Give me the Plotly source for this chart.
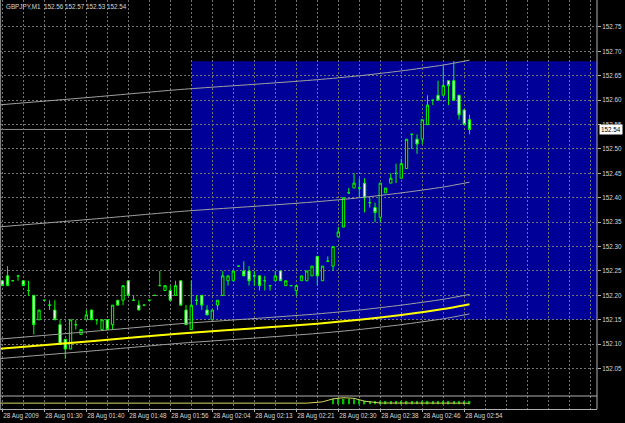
import plotly.graph_objects as go

# ---------------- data ----------------
bar_index = list(range(90))
opens = [152.23, 152.24, 152.23, 152.24, 152.23, 152.21, 152.20, 152.15, 152.19, 152.18,
         152.17, 152.14, 152.11, 152.09, 152.14, 152.12, 152.15, 152.17, 152.15, 152.13,
         152.15, 152.14, 152.19, 152.19, 152.23, 152.19, 152.18, 152.18, 152.19, 152.20,
         152.22, 152.21, 152.21, 152.20, 152.23, 152.17, 152.13, 152.19, 152.20, 152.17,
         152.15, 152.18, 152.20, 152.23, 152.23, 152.26, 152.25, 152.25, 152.24, 152.24,
         152.23, 152.22, 152.23, 152.25, 152.22, 152.22, 152.21, 152.23, 152.23, 152.24,
         152.28, 152.23, 152.27, 152.26, 152.32, 152.34, 152.41, 152.42, 152.42, 152.43,
         152.39, 152.38, 152.36, 152.41, 152.43, 152.45, 152.44, 152.46, 152.53, 152.52,
         152.52, 152.55, 152.60, 152.61, 152.61, 152.64, 152.64, 152.61, 152.58, 152.56]
highs = [152.23, 152.26, 152.23, 152.24, 152.23, 152.23, 152.20, 152.17, 152.19, 152.19,
         152.19, 152.15, 152.11, 152.15, 152.15, 152.13, 152.17, 152.17, 152.15, 152.15,
         152.15, 152.18, 152.19, 152.22, 152.23, 152.20, 152.19, 152.18, 152.19, 152.20,
         152.25, 152.22, 152.22, 152.23, 152.23, 152.18, 152.23, 152.20, 152.20, 152.18,
         152.17, 152.19, 152.25, 152.24, 152.25, 152.26, 152.27, 152.26, 152.25, 152.24,
         152.24, 152.22, 152.25, 152.25, 152.23, 152.22, 152.22, 152.24, 152.25, 152.26,
         152.28, 152.26, 152.28, 152.30, 152.34, 152.40, 152.42, 152.45, 152.44, 152.44,
         152.40, 152.39, 152.43, 152.42, 152.45, 152.47, 152.48, 152.52, 152.53, 152.53,
         152.56, 152.61, 152.60, 152.64, 152.67, 152.64, 152.68, 152.61, 152.58, 152.57]
lows = [152.22, 152.22, 152.23, 152.23, 152.22, 152.20, 152.12, 152.15, 152.19, 152.17,
        152.15, 152.10, 152.07, 152.09, 152.13, 152.12, 152.15, 152.15, 152.14, 152.13,
        152.13, 152.13, 152.18, 152.18, 152.20, 152.19, 152.17, 152.18, 152.19, 152.20,
        152.22, 152.21, 152.19, 152.20, 152.18, 152.14, 152.13, 152.18, 152.17, 152.16,
        152.15, 152.17, 152.20, 152.22, 152.23, 152.26, 152.24, 152.22, 152.22, 152.21,
        152.21, 152.21, 152.23, 152.23, 152.22, 152.22, 152.20, 152.23, 152.23, 152.24,
        152.22, 152.23, 152.27, 152.25, 152.32, 152.34, 152.41, 152.42, 152.40, 152.37,
        152.38, 152.35, 152.35, 152.41, 152.43, 152.43, 152.44, 152.46, 152.50, 152.49,
        152.51, 152.55, 152.59, 152.60, 152.61, 152.59, 152.60, 152.56, 152.55, 152.53]
closes = [152.22, 152.22, 152.23, 152.24, 152.22, 152.21, 152.14, 152.17, 152.19, 152.18,
          152.15, 152.10, 152.09, 152.15, 152.14, 152.13, 152.16, 152.15, 152.15, 152.15,
          152.13, 152.18, 152.18, 152.22, 152.20, 152.19, 152.17, 152.18, 152.19, 152.20,
          152.22, 152.22, 152.19, 152.22, 152.18, 152.14, 152.18, 152.19, 152.18, 152.16,
          152.17, 152.19, 152.24, 152.24, 152.25, 152.26, 152.24, 152.23, 152.24, 152.22,
          152.23, 152.22, 152.24, 152.23, 152.23, 152.22, 152.22, 152.24, 152.25, 152.26,
          152.24, 152.26, 152.27, 152.30, 152.33, 152.40, 152.41, 152.43, 152.42, 152.40,
          152.39, 152.37, 152.43, 152.42, 152.44, 152.45, 152.47, 152.52, 152.53, 152.51,
          152.56, 152.59, 152.60, 152.60, 152.63, 152.63, 152.60, 152.57, 152.55, 152.54]

date_tick_bars = [0, 8, 16, 24, 32, 40, 48, 56, 64, 72, 80, 88]
date_tick_labels = ["28 Aug 2009", "28 Aug 01:30", "28 Aug 01:40", "28 Aug 01:48",
                    "28 Aug 01:56", "28 Aug 02:04", "28 Aug 02:13", "28 Aug 02:21",
                    "28 Aug 02:30", "28 Aug 02:38", "28 Aug 02:46", "28 Aug 02:54"]
price_ticks = [152.05, 152.10, 152.15, 152.20, 152.25, 152.30, 152.35, 152.40,
               152.45, 152.50, 152.55, 152.60, 152.65, 152.70, 152.75]
price_tick_labels = ["152.05", "152.10", "152.15", "152.20", "152.25", "152.30", "152.35",
                     "152.40", "152.45", "152.50", "152.55", "152.60", "152.65", "152.70", "152.75"]

env_bars = [-1, 18, 34, 50, 60, 68, 76, 84, 89]
env_middle = [152.340, 152.357, 152.372, 152.384, 152.392, 152.400, 152.410, 152.422, 152.432]
env_upper = [152.590, 152.607, 152.622, 152.634, 152.642, 152.650, 152.660, 152.672, 152.682]
env_lower = [152.090, 152.107, 152.122, 152.134, 152.142, 152.150, 152.160, 152.172, 152.182]
band_high = [152.110, 152.127, 152.142, 152.154, 152.162, 152.170, 152.180, 152.192, 152.202]
band_low = [152.070, 152.087, 152.102, 152.114, 152.122, 152.130, 152.140, 152.152, 152.162]

rect_start_bar = 36
rect_top = 152.68
rect_bottom = 152.15
title_text = "GBPJPY,M1  152.56 152.57 152.53 152.54"
last_price = 152.54
last_price_label = "152.54"

ind_line_bars = [-1, 20, 40, 58, 61, 63, 65, 67, 69, 72, 89]
ind_line_vals = [0.45, 0.45, 0.45, 0.45, 0.55, 0.78, 0.87, 0.82, 0.60, 0.46, 0.45]
ind_hist_bars = list(range(63, 90))
ind_hist_vals = [0.78, 0.80, 0.80, 0.78, 0.75, 0.70, 0.64, 0.62, 0.62, 0.63, 0.62, 0.62,
                 0.62, 0.63, 0.62, 0.62, 0.62, 0.63, 0.62, 0.62, 0.62, 0.62, 0.62, 0.62,
                 0.62, 0.62, 0.62]
ind_base = 0.36

# ---------------- style ----------------
FONT = "Liberation Sans, Arial, sans-serif"
TXT = "#d8d8d8"
GRID = "#747474"
AXIS = "#b0b0b0"
FS = 6.3
PLOT_H = 409.0
main_bottom = 13.0 / PLOT_H

fig = go.Figure()

line_style = dict(color="#a0a0a0", width=1)
for vals in (env_upper, env_middle, band_high, band_low):
    fig.add_trace(go.Scatter(x=env_bars, y=vals, mode="lines",
                             line=dict(line_style, shape="spline", smoothing=0.6),
                             hoverinfo="skip", showlegend=False, xaxis="x", yaxis="y"))
fig.add_trace(go.Scatter(x=env_bars, y=env_lower, mode="lines",
                         line=dict(color="#ffff00", width=2, shape="spline", smoothing=0.6),
                         hoverinfo="skip", showlegend=False, xaxis="x", yaxis="y"))

fig.add_trace(go.Candlestick(
    x=bar_index, open=opens, high=highs, low=lows, close=closes,
    increasing=dict(fillcolor="#000000", line=dict(color="#00ff00", width=1)),
    decreasing=dict(fillcolor="#ffffff", line=dict(color="#00ff00", width=1)),
    whiskerwidth=0, showlegend=False, xaxis="x", yaxis="y"))

# indicator sub-window
fig.add_trace(go.Bar(x=ind_hist_bars, y=[v - ind_base for v in ind_hist_vals], base=ind_base,
                     width=0.3, marker=dict(color="#00c000", line=dict(width=0)),
                     showlegend=False, xaxis="x", yaxis="y2"))
fig.add_trace(go.Scatter(x=ind_line_bars, y=ind_line_vals, mode="lines",
                         line=dict(color="#d8d860", width=1),
                         showlegend=False, xaxis="x", yaxis="y2"))

fig.update_layout(
    width=625, height=423, showlegend=False,
    margin=dict(l=0, r=28, t=0, b=14, pad=0, autoexpand=False),
    paper_bgcolor="#000000", plot_bgcolor="#000000",
    boxgap=0.38,
    font=dict(family=FONT, size=FS, color=TXT),
    xaxis=dict(
        domain=[0, 1], anchor="y2", range=[-0.438, 113.28],
        rangeslider=dict(visible=False), automargin=False, tickangle=0,
        tickmode="array", tickvals=date_tick_bars, ticktext=date_tick_labels,
        ticklabelposition="outside right",
        ticks="outside", ticklen=2, tickcolor=AXIS,
        showgrid=True, gridcolor=GRID, griddash="2px,2px", gridwidth=1,
        minor=dict(tickmode="linear", tick0=0, dtick=4, showgrid=True,
                   gridcolor=GRID, griddash="2px,2px", gridwidth=1, ticks=""),
        showline=True, linecolor=AXIS, linewidth=1,
        zeroline=False,
    ),
    yaxis=dict(
        domain=[main_bottom, 1], anchor="x", side="right", automargin=False,
        range=[151.9938, 152.8053], ticklabeloverflow="allow",
        tickmode="array", tickvals=price_ticks, ticktext=price_tick_labels,
        ticks="outside", ticklen=3, tickcolor=AXIS,
        showgrid=True, gridcolor=GRID, griddash="2px,2px", gridwidth=1,
        showline=False, zeroline=False,
    ),
    yaxis2=dict(
        domain=[0, main_bottom], anchor="x", side="right", range=[0, 1], automargin=False,
        showticklabels=False, ticks="", showgrid=False,
        showline=False, zeroline=False,
    ),
    shapes=[
        dict(type="rect", xref="x", yref="y", x0=rect_start_bar, x1=113.28,
             y0=rect_bottom, y1=rect_top, fillcolor="#000099", line=dict(width=0),
             layer="below"),
        dict(type="line", xref="paper", yref="y", x0=0, x1=1, y0=last_price, y1=last_price,
             line=dict(color="#8c8c8c", width=1), layer="between"),
        dict(type="line", xref="paper", yref="paper", x0=0, x1=1, y0=main_bottom, y1=main_bottom,
             line=dict(color=AXIS, width=1), layer="above"),
        dict(type="line", xref="paper", yref="paper", x0=1, x1=1, y0=0, y1=1,
             line=dict(color=AXIS, width=1), layer="above"),
        dict(type="line", xref="paper", yref="paper", x0=0.001, x1=0.001, y0=0, y1=1,
             line=dict(color="#909090", width=1), layer="above"),
    ],
    annotations=[
        dict(xref="paper", yref="paper", x=4 / 597, y=1, xanchor="left", yanchor="top",
             yshift=-1, text=title_text, showarrow=False,
             font=dict(family=FONT, size=FS, color=TXT)),
        dict(xref="paper", yref="y", x=1, y=last_price, xanchor="left", yanchor="middle",
             xshift=2, text=last_price_label, showarrow=False, bgcolor="#ffffff",
             borderpad=1, font=dict(family=FONT, size=FS, color="#000000")),
    ],
)

fig.write_html("out.html")
